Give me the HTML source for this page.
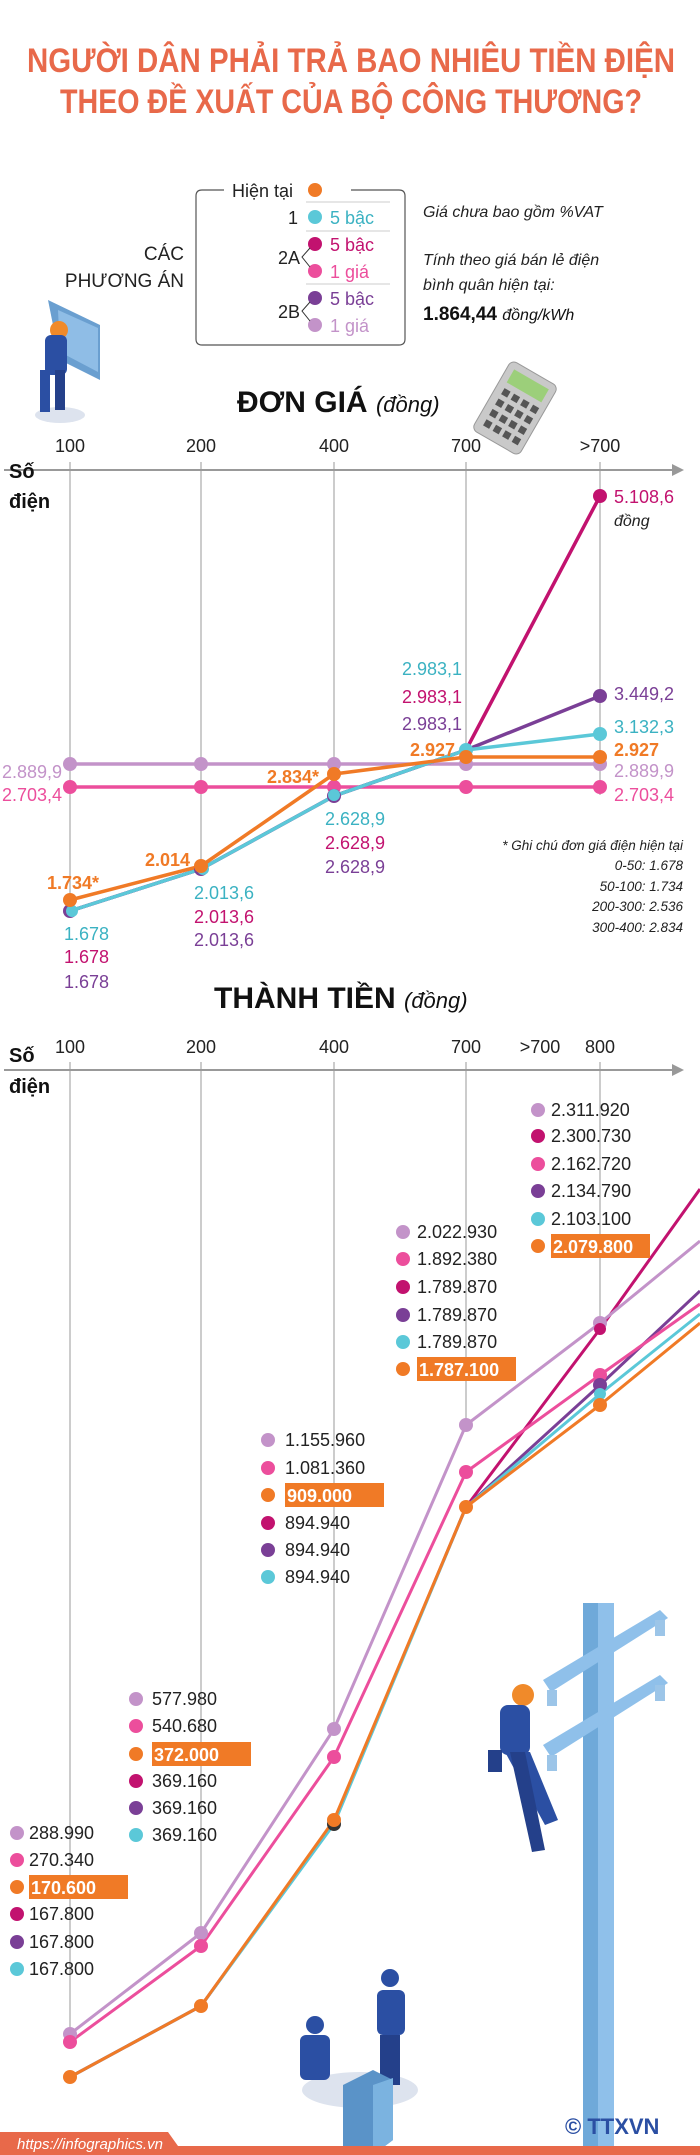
<!DOCTYPE html>
<html><head><meta charset="utf-8"><style>
html,body{margin:0;padding:0;background:#fff;}
svg{display:block;}
text{font-family:"Liberation Sans",sans-serif;}
</style></head><body>
<svg width="700" height="2155" viewBox="0 0 700 2155" xmlns="http://www.w3.org/2000/svg">
<!-- Title -->
<text x="351" y="72" text-anchor="middle" font-size="34" font-weight="bold" fill="#e8694a" textLength="648" lengthAdjust="spacingAndGlyphs">NGƯỜI DÂN PHẢI TRẢ BAO NHIÊU TIỀN ĐIỆN</text>
<text x="351" y="113" text-anchor="middle" font-size="34" font-weight="bold" fill="#e8694a" textLength="582" lengthAdjust="spacingAndGlyphs">THEO ĐỀ XUẤT CỦA BỘ CÔNG THƯƠNG?</text>

<!-- Legend box -->
<path d="M224 190 H202 Q196 190 196 196 V339 Q196 345 202 345 H399 Q405 345 405 339 V196 Q405 190 399 190 H351" fill="none" stroke="#555" stroke-width="1.2"/>
<text x="232" y="197" font-size="18" fill="#222">Hiện tại</text>
<circle cx="315" cy="190" r="7" fill="#f07a26"/>
<g stroke="#ccc" stroke-width="1"><line x1="306" y1="202" x2="390" y2="202"/><line x1="306" y1="231" x2="390" y2="231"/><line x1="306" y1="284" x2="390" y2="284"/></g>
<text x="298" y="224" font-size="18" fill="#222" text-anchor="end">1</text>
<circle cx="315" cy="217" r="7" fill="#5bc8d8"/><text x="330" y="224" font-size="18" fill="#3bb2c2">5 bậc</text>
<circle cx="315" cy="244" r="7" fill="#c2126f"/><text x="330" y="251" font-size="18" fill="#c2126f">5 bậc</text>
<circle cx="315" cy="271" r="7" fill="#ec4e9c"/><text x="330" y="278" font-size="18" fill="#ec4e9c">1 giá</text>
<text x="278" y="264" font-size="18" fill="#222">2A</text>
<path d="M310 248 L302 257 L310 267" fill="none" stroke="#333"/>
<circle cx="315" cy="298" r="7" fill="#7a3f96"/><text x="330" y="305" font-size="18" fill="#7a3f96">5 bậc</text>
<circle cx="315" cy="325" r="7" fill="#c393c9"/><text x="330" y="332" font-size="18" fill="#c393c9">1 giá</text>
<text x="278" y="318" font-size="18" fill="#222">2B</text>
<path d="M310 302 L302 311 L310 321" fill="none" stroke="#333"/>
<text x="184" y="260" font-size="19" fill="#222" text-anchor="end">CÁC</text>
<text x="184" y="287" font-size="19" fill="#222" text-anchor="end">PHƯƠNG ÁN</text>
<text x="423" y="217" font-size="16" font-style="italic" fill="#222">Giá chưa bao gồm %VAT</text>
<text x="423" y="265" font-size="16" font-style="italic" fill="#222">Tính theo giá bán lẻ điện</text>
<text x="423" y="290" font-size="16" font-style="italic" fill="#222">bình quân hiện tại:</text>
<text x="423" y="320" font-size="19" font-weight="bold" fill="#111">1.864,44 <tspan font-size="16" font-weight="normal" font-style="italic">đồng/kWh</tspan></text>

<!-- worker icon 1 -->
<g>
<ellipse cx="60" cy="415" rx="25" ry="8" fill="#dde3ee"/>
<polygon points="48,300 100,325 100,380 60,360" fill="#6a9fd0"/>
<polygon points="58,310 98,328 98,372 60,352" fill="#8fbde6"/>
<circle cx="59" cy="330" r="9" fill="#f08a2a"/>
<rect x="45" y="335" width="22" height="40" rx="6" fill="#2b4fa3"/>
<rect x="40" y="370" width="10" height="42" fill="#2b4fa3"/><rect x="55" y="370" width="10" height="40" fill="#24408a"/>
</g>

<!-- DON GIA -->
<text x="237" y="412" font-size="30" font-weight="bold" fill="#111">ĐƠN GIÁ <tspan font-size="22" font-weight="normal" font-style="italic">(đồng)</tspan></text>
<!-- calculator -->
<g transform="rotate(30 515 408)"><rect x="488" y="368" width="54" height="80" rx="6" fill="#c9c9c9" stroke="#999"/><rect x="495" y="375" width="40" height="15" fill="#9ccf7a"/>
<g fill="#555"><rect x="496" y="396" width="7" height="7"/><rect x="507" y="396" width="7" height="7"/><rect x="518" y="396" width="7" height="7"/><rect x="529" y="396" width="7" height="7"/><rect x="496" y="408" width="7" height="7"/><rect x="507" y="408" width="7" height="7"/><rect x="518" y="408" width="7" height="7"/><rect x="529" y="408" width="7" height="7"/><rect x="496" y="420" width="7" height="7"/><rect x="507" y="420" width="7" height="7"/><rect x="518" y="420" width="7" height="7"/><rect x="529" y="420" width="7" height="7"/><rect x="496" y="432" width="7" height="7"/><rect x="507" y="432" width="7" height="7"/><rect x="518" y="432" width="7" height="7"/><rect x="529" y="432" width="7" height="7"/></g></g>

<!-- axis 1 -->
<line x1="4" y1="470" x2="678" y2="470" stroke="#999" stroke-width="2"/>
<polygon points="684,470 672,464 672,476" fill="#999"/>
<text x="9" y="478" font-size="20" font-weight="bold" fill="#111">Số</text>
<text x="9" y="508" font-size="20" font-weight="bold" fill="#111">điện</text>
<g font-size="18" fill="#222" text-anchor="middle"><text x="70" y="452">100</text><text x="201" y="452">200</text><text x="334" y="452">400</text><text x="466" y="452">700</text><text x="600" y="452">&gt;700</text></g>
<g stroke="#999" stroke-width="1"><line x1="70" y1="462" x2="70" y2="900"/><line x1="201" y1="462" x2="201" y2="866"/><line x1="334" y1="462" x2="334" y2="796"/><line x1="466" y1="462" x2="466" y2="757"/><line x1="600" y1="462" x2="600" y2="795"/></g>

<g stroke-width="3.5" fill="none" stroke-linejoin="round">
<polyline points="70,764 201,764 334,764 466,764 600,764" stroke="#c393c9"/>
<polyline points="70,787 201,787 334,787 466,787 600,787" stroke="#ec4e9c"/>
<polyline points="70,911 201,869 334,796 466,750 600,496" stroke="#c2126f"/>
<polyline points="70,911 201,869 334,796 466,750 600,696" stroke="#7a3f96"/>
<polyline points="70,911 201,869 334,796 466,750 600,734" stroke="#5bc8d8"/>
<polyline points="70,900 201,866 334,774 466,757 600,757" stroke="#f07a26"/>
</g>
<g>
<g fill="#c393c9"><circle cx="70" cy="764" r="7"/><circle cx="201" cy="764" r="7"/><circle cx="334" cy="764" r="7"/><circle cx="466" cy="764" r="7"/><circle cx="600" cy="764" r="7"/></g>
<g fill="#ec4e9c"><circle cx="70" cy="787" r="7"/><circle cx="201" cy="787" r="7"/><circle cx="334" cy="787" r="7"/><circle cx="466" cy="787" r="7"/><circle cx="600" cy="787" r="7"/></g>
<circle cx="70" cy="911" r="7" fill="#7a3f96"/><circle cx="201" cy="869" r="7" fill="#7a3f96"/><circle cx="334" cy="796" r="7" fill="#7a3f96"/>
<circle cx="72" cy="911" r="6" fill="#5bc8d8"/><circle cx="203" cy="869" r="6" fill="#5bc8d8"/><circle cx="334" cy="795" r="6" fill="#5bc8d8"/><circle cx="466" cy="750" r="7" fill="#5bc8d8"/>
<circle cx="600" cy="496" r="7" fill="#c2126f"/><circle cx="600" cy="696" r="7" fill="#7a3f96"/><circle cx="600" cy="734" r="7" fill="#5bc8d8"/>
<g fill="#f07a26"><circle cx="70" cy="900" r="7"/><circle cx="201" cy="866" r="7"/><circle cx="334" cy="774" r="7"/><circle cx="466" cy="757" r="7"/><circle cx="600" cy="757" r="7"/></g>
</g>
<g font-size="18">
<text x="2" y="778" fill="#c393c9">2.889,9</text><text x="2" y="801" fill="#ec4e9c">2.703,4</text>
<text x="614" y="503" fill="#c2126f">5.108,6</text><text x="614" y="526" fill="#222" font-size="16" font-style="italic">đồng</text>
<text x="614" y="700" fill="#7a3f96">3.449,2</text><text x="614" y="733" fill="#3bb2c2">3.132,3</text>
<text x="614" y="756" fill="#f07a26" font-weight="bold">2.927</text>
<text x="614" y="777" fill="#c393c9">2.889,9</text><text x="614" y="801" fill="#ec4e9c">2.703,4</text>
<g text-anchor="end"><text x="462" y="675" fill="#3bb2c2">2.983,1</text><text x="462" y="703" fill="#c2126f">2.983,1</text><text x="462" y="730" fill="#7a3f96">2.983,1</text>
<text x="455" y="756" fill="#f07a26" font-weight="bold">2.927</text>
<text x="319" y="783" fill="#f07a26" font-weight="bold">2.834*</text>
<text x="190" y="866" fill="#f07a26" font-weight="bold">2.014</text></g>
<text x="325" y="825" fill="#3bb2c2">2.628,9</text><text x="325" y="849" fill="#c2126f">2.628,9</text><text x="325" y="873" fill="#7a3f96">2.628,9</text>
<text x="194" y="899" fill="#3bb2c2">2.013,6</text><text x="194" y="923" fill="#c2126f">2.013,6</text><text x="194" y="946" fill="#7a3f96">2.013,6</text>
<text x="47" y="889" fill="#f07a26" font-weight="bold">1.734*</text>
<text x="64" y="940" fill="#3bb2c2">1.678</text><text x="64" y="963" fill="#c2126f">1.678</text><text x="64" y="988" fill="#7a3f96">1.678</text>
</g>
<g font-size="13.5" font-style="italic" fill="#222" text-anchor="end">
<text x="683" y="850">* Ghi chú đơn giá điện hiện tại</text><text x="683" y="870">0-50: 1.678</text><text x="683" y="891">50-100: 1.734</text><text x="683" y="911">200-300: 2.536</text><text x="683" y="932">300-400: 2.834</text>
</g>

<!-- THANH TIEN -->
<text x="214" y="1008" font-size="30" font-weight="bold" fill="#111">THÀNH TIỀN <tspan font-size="22" font-weight="normal" font-style="italic">(đồng)</tspan></text>
<line x1="4" y1="1070" x2="678" y2="1070" stroke="#999" stroke-width="2"/>
<polygon points="684,1070 672,1064 672,1076" fill="#999"/>
<text x="9" y="1062" font-size="20" font-weight="bold" fill="#111">Số</text>
<text x="9" y="1093" font-size="20" font-weight="bold" fill="#111">điện</text>
<g font-size="18" fill="#222" text-anchor="middle"><text x="70" y="1053">100</text><text x="201" y="1053">200</text><text x="334" y="1053">400</text><text x="466" y="1053">700</text><text x="540" y="1053">&gt;700</text><text x="600" y="1053">800</text></g>
<g stroke="#999" stroke-width="1"><line x1="70" y1="1062" x2="70" y2="2034"/><line x1="201" y1="1062" x2="201" y2="1933"/><line x1="334" y1="1062" x2="334" y2="1729"/><line x1="466" y1="1062" x2="466" y2="1425"/><line x1="600" y1="1062" x2="600" y2="1323"/></g>

<g stroke-width="3" fill="none" stroke-linejoin="round">
<polyline points="70,2077 201,2006 334,1822 466,1507 600,1329 700,1189" stroke="#c2126f"/>
<polyline points="70,2077 201,2006 334,1822 466,1507 600,1385 700,1291" stroke="#7a3f96"/>
<polyline points="70,2077 201,2006 334,1824 466,1507 600,1394 700,1314" stroke="#5bc8d8"/>
<polyline points="70,2034 201,1933 334,1729 466,1425 600,1323 700,1241" stroke="#c393c9"/>
<polyline points="70,2042 201,1946 334,1757 466,1472 600,1375 700,1304" stroke="#ec4e9c"/>
<polyline points="70,2077 201,2006 334,1820 466,1507 600,1405 700,1323" stroke="#f07a26"/>
</g>
<g>
<circle cx="70" cy="2034" r="7" fill="#c393c9"/><circle cx="201" cy="1933" r="7" fill="#c393c9"/><circle cx="334" cy="1729" r="7" fill="#c393c9"/><circle cx="466" cy="1425" r="7" fill="#c393c9"/><circle cx="600" cy="1323" r="7" fill="#c393c9"/>
<circle cx="70" cy="2042" r="7" fill="#ec4e9c"/><circle cx="201" cy="1946" r="7" fill="#ec4e9c"/><circle cx="334" cy="1757" r="7" fill="#ec4e9c"/><circle cx="466" cy="1472" r="7" fill="#ec4e9c"/><circle cx="600" cy="1375" r="7" fill="#ec4e9c"/>
<circle cx="600" cy="1329" r="6" fill="#c2126f"/><circle cx="600" cy="1385" r="7" fill="#7a3f96"/><circle cx="600" cy="1394" r="6" fill="#5bc8d8"/>
<circle cx="334" cy="1824" r="7" fill="#333"/>
<circle cx="70" cy="2077" r="7" fill="#f07a26"/><circle cx="201" cy="2006" r="7" fill="#f07a26"/><circle cx="334" cy="1820" r="7" fill="#f07a26"/><circle cx="466" cy="1507" r="7" fill="#f07a26"/><circle cx="600" cy="1405" r="7" fill="#f07a26"/>
</g>

<!-- value lists -->
<g font-size="18" fill="#222">
<!-- 800 -->
<rect x="551" y="1234" width="99" height="24" fill="#f07a26"/>
<circle cx="538" cy="1110" r="7" fill="#c393c9"/><text x="551" y="1116">2.311.920</text>
<circle cx="538" cy="1136" r="7" fill="#c2126f"/><text x="551" y="1142">2.300.730</text>
<circle cx="538" cy="1164" r="7" fill="#ec4e9c"/><text x="551" y="1170">2.162.720</text>
<circle cx="538" cy="1191" r="7" fill="#7a3f96"/><text x="551" y="1197">2.134.790</text>
<circle cx="538" cy="1219" r="7" fill="#5bc8d8"/><text x="551" y="1225">2.103.100</text>
<circle cx="538" cy="1246" r="7" fill="#f07a26"/><text x="553" y="1253" fill="#fff" font-weight="bold">2.079.800</text>
<!-- 700 -->
<rect x="417" y="1357" width="99" height="24" fill="#f07a26"/>
<circle cx="403" cy="1232" r="7" fill="#c393c9"/><text x="417" y="1238">2.022.930</text>
<circle cx="403" cy="1259" r="7" fill="#ec4e9c"/><text x="417" y="1265">1.892.380</text>
<circle cx="403" cy="1287" r="7" fill="#c2126f"/><text x="417" y="1293">1.789.870</text>
<circle cx="403" cy="1315" r="7" fill="#7a3f96"/><text x="417" y="1321">1.789.870</text>
<circle cx="403" cy="1342" r="7" fill="#5bc8d8"/><text x="417" y="1348">1.789.870</text>
<circle cx="403" cy="1369" r="7" fill="#f07a26"/><text x="419" y="1376" fill="#fff" font-weight="bold">1.787.100</text>
<!-- 400 -->
<rect x="285" y="1483" width="99" height="24" fill="#f07a26"/>
<circle cx="268" cy="1440" r="7" fill="#c393c9"/><text x="285" y="1446">1.155.960</text>
<circle cx="268" cy="1468" r="7" fill="#ec4e9c"/><text x="285" y="1474">1.081.360</text>
<circle cx="268" cy="1495" r="7" fill="#f07a26"/><text x="287" y="1502" fill="#fff" font-weight="bold">909.000</text>
<circle cx="268" cy="1523" r="7" fill="#c2126f"/><text x="285" y="1529">894.940</text>
<circle cx="268" cy="1550" r="7" fill="#7a3f96"/><text x="285" y="1556">894.940</text>
<circle cx="268" cy="1577" r="7" fill="#5bc8d8"/><text x="285" y="1583">894.940</text>
<!-- 200 -->
<rect x="152" y="1742" width="99" height="24" fill="#f07a26"/>
<circle cx="136" cy="1699" r="7" fill="#c393c9"/><text x="152" y="1705">577.980</text>
<circle cx="136" cy="1726" r="7" fill="#ec4e9c"/><text x="152" y="1732">540.680</text>
<circle cx="136" cy="1754" r="7" fill="#f07a26"/><text x="154" y="1761" fill="#fff" font-weight="bold">372.000</text>
<circle cx="136" cy="1781" r="7" fill="#c2126f"/><text x="152" y="1787">369.160</text>
<circle cx="136" cy="1808" r="7" fill="#7a3f96"/><text x="152" y="1814">369.160</text>
<circle cx="136" cy="1835" r="7" fill="#5bc8d8"/><text x="152" y="1841">369.160</text>
<!-- 100 -->
<rect x="29" y="1875" width="99" height="24" fill="#f07a26"/>
<circle cx="17" cy="1833" r="7" fill="#c393c9"/><text x="29" y="1839">288.990</text>
<circle cx="17" cy="1860" r="7" fill="#ec4e9c"/><text x="29" y="1866">270.340</text>
<circle cx="17" cy="1887" r="7" fill="#f07a26"/><text x="31" y="1894" fill="#fff" font-weight="bold">170.600</text>
<circle cx="17" cy="1914" r="7" fill="#c2126f"/><text x="29" y="1920">167.800</text>
<circle cx="17" cy="1942" r="7" fill="#7a3f96"/><text x="29" y="1948">167.800</text>
<circle cx="17" cy="1969" r="7" fill="#5bc8d8"/><text x="29" y="1975">167.800</text>
</g>

<!-- pole -->
<rect x="583" y="1603" width="31" height="552" fill="#6fa9d9"/>
<rect x="598" y="1603" width="16" height="552" fill="#8fc0ea"/>
<polygon points="543,1680 660,1610 668,1618 551,1692" fill="#8fc0ea"/>
<polygon points="543,1745 660,1675 668,1683 551,1757" fill="#8fc0ea"/>
<rect x="547" y="1690" width="10" height="16" fill="#9cc5e8"/><rect x="655" y="1620" width="10" height="16" fill="#9cc5e8"/><rect x="655" y="1685" width="10" height="16" fill="#9cc5e8"/><rect x="547" y="1755" width="10" height="16" fill="#9cc5e8"/>
<!-- climbing worker -->
<circle cx="523" cy="1695" r="11" fill="#f08a2a"/>
<rect x="500" y="1705" width="30" height="50" rx="8" fill="#2b4fa3"/>
<rect x="488" y="1750" width="14" height="22" fill="#24408a"/>
<polygon points="505,1752 530,1752 558,1820 545,1825" fill="#2b4fa3"/>
<polygon points="510,1752 525,1752 545,1850 532,1852" fill="#24408a"/>
<!-- ground workers -->
<ellipse cx="360" cy="2090" rx="58" ry="18" fill="#dde3ee"/>
<circle cx="315" cy="2025" r="9" fill="#2b4fa3"/><rect x="300" y="2035" width="30" height="45" rx="6" fill="#2b4fa3"/>
<circle cx="390" cy="1978" r="9" fill="#2b4fa3"/><rect x="377" y="1990" width="28" height="45" rx="6" fill="#2b4fa3"/><rect x="380" y="2035" width="20" height="50" fill="#24408a"/>
<polygon points="343,2150 343,2085 373,2070 393,2080 393,2140 373,2155" fill="#5a93c8"/>
<polygon points="373,2155 373,2085 393,2078 393,2140" fill="#7bb3e0"/>
<!-- footer -->
<rect x="0" y="2146" width="700" height="9" fill="#e8694a"/>
<polygon points="0,2132 168,2132 178,2146 178,2155 0,2155" fill="#e8694a"/>
<text x="17" y="2149" font-size="15" font-style="italic" fill="#fff">https://infographics.vn</text>
<text x="565" y="2134" font-size="22" font-weight="bold" fill="#2b4fa3">© TTXVN</text>
</svg>
</body></html>
